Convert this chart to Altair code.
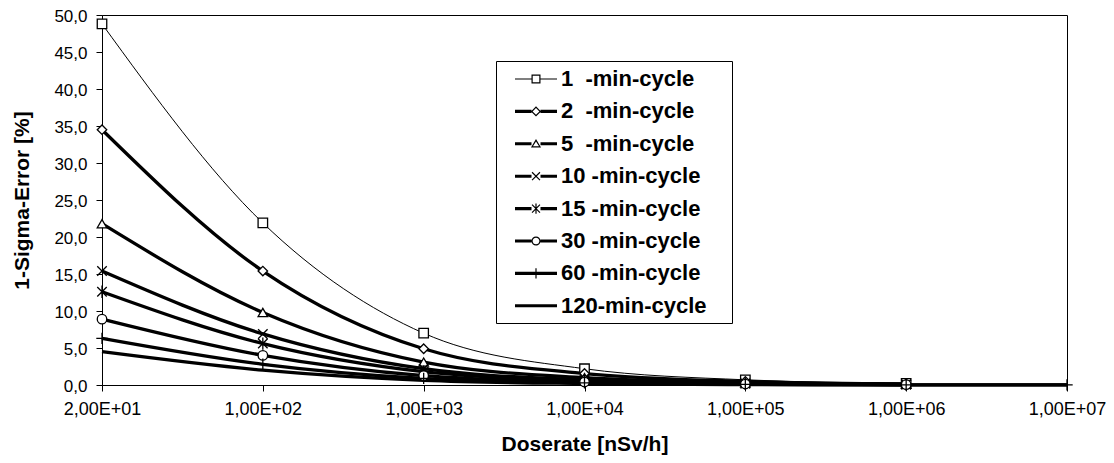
import altair as alt
import pandas as pd

# ---- data ----
doserate = ["2,00E+01", "1,00E+02", "1,00E+03", "1,00E+04", "1,00E+05", "1,00E+06", "1,00E+07"]
series = ["1\u00a0\u00a0-min-cycle", "2\u00a0\u00a0-min-cycle", "5\u00a0\u00a0-min-cycle", "10 -min-cycle",
          "15 -min-cycle", "30 -min-cycle", "60 -min-cycle", "120-min-cycle"]
s1 = [48.8, 21.9, 7.0, 2.2, 0.70, 0.22, None]
s2 = [34.5, 15.4, 4.9, 1.55, 0.49, 0.15, None]
s5 = [21.8, 9.8, 3.1, 0.98, 0.31, 0.10, None]
s10 = [15.4, 6.9, 2.2, 0.69, 0.22, 0.07, None]
s15 = [12.6, 5.6, 1.8, 0.56, 0.18, 0.06, None]
s30 = [8.9, 4.0, 1.26, 0.40, 0.13, 0.04, None]
s60 = [6.3, 2.8, 0.89, 0.28, 0.09, 0.03, 0.01]
s120 = [4.5, 2.0, 0.63, 0.20, 0.06, 0.02, 0.01]
y_ticks = [0, 5, 10, 15, 20, 25, 30, 35, 40, 45, 50]

all_vals = [s1, s2, s5, s10, s15, s30, s60, s120]
rows = []
for i, (name, vals) in enumerate(zip(series, all_vals)):
    for d, v in zip(doserate, vals):
        if v is not None:
            rows.append({"dose": d, "series": name, "value": v, "k": i})
df = pd.DataFrame(rows)

FONT = "Liberation Sans"

# plot markers (series with markers)
marker_series = series[:7]
marker_shapes = ["square", "diamond", "triangle-up",
                 "M-1,-1L1,1M-1,1L1,-1",
                 "M-1,-1L1,1M-1,1L1,-1M0,-1.3V1.3",
                 "circle",
                 "M-1.2,0H1.2M0,-1.2V1.2"]

# legend symbols: line segment + marker drawn as filled outlines (unit = 12px)
def seg(t):
    return (f"M-1.75,-{t}H-0.375V{t}H-1.75Z M0.375,-{t}H1.75V{t}H0.375Z")

def full(t):
    return f"M-1.75,-{t}H1.75V{t}H-1.75Z"

TH = 0.13
legend_shapes = [
    seg(0.05) + " M-0.375,-0.375H0.375V0.375H-0.375Z M-0.275,-0.275V0.275H0.275V-0.275Z",
    seg(TH) + " M0,-0.42L0.42,0L0,0.42L-0.42,0Z M0,-0.28L-0.28,0L0,0.28L0.28,0Z",
    seg(TH) + " M0,-0.4L0.42,0.3H-0.42Z M0,-0.2L-0.25,0.2H0.25Z",
    seg(TH) + " M-0.295,-0.365L0.365,0.295L0.295,0.365L-0.365,-0.295Z"
              " M-0.295,0.365L-0.365,0.295L0.295,-0.365L0.365,-0.295Z",
    seg(TH) + " M-0.295,-0.365L0.365,0.295L0.295,0.365L-0.365,-0.295Z"
              " M-0.295,0.365L-0.365,0.295L0.295,-0.365L0.365,-0.295Z"
              " M-0.05,-0.42H0.05V0.42H-0.05Z",
    seg(TH) + " M-0.38,0A0.38,0.38,0,1,1,0.38,0A0.38,0.38,0,1,1,-0.38,0Z"
              " M-0.28,0A0.28,0.28,0,1,0,0.28,0A0.28,0.28,0,1,0,-0.28,0Z",
    full(TH) + " M-0.05,-0.42H0.05V0.42H-0.05Z",
    full(TH),
]

x_enc = alt.X("dose:O", sort=doserate,
              scale=alt.Scale(type="point", padding=0, domain=doserate),
              axis=alt.Axis(title="Doserate [nSv/h]", labelAngle=0, tickSize=6,
                            labelPadding=9, labelFontSize=18, labelFont=FONT,
                            titleFont=FONT, titleFontSize=21, titleFontWeight="bold",
                            titleX=482.5, titleY=59, titleAlign="center",
                            titleBaseline="middle"))
y_enc = alt.Y("value:Q", scale=alt.Scale(domain=[0, 50], nice=False),
              axis=alt.Axis(title="1-Sigma-Error [%]", values=y_ticks, tickSize=6,
                            labelPadding=9, labelFontSize=17, labelFont=FONT,
                            labelOffset=1.5,
                            labelExpr="replace(format(datum.value, '.1f'), '.', ',')",
                            titleFont=FONT, titleFontSize=21, titleFontWeight="bold",
                            titleX=-80, titleY=185, titleAngle=270, titleAlign="center",
                            titleBaseline="middle", grid=False))

base = alt.Chart(df)

lines = base.mark_line(interpolate="monotone", color="black").encode(
    x=x_enc, y=y_enc,
    detail=alt.Detail("series:N"),
    order=alt.Order("k:Q"),
    strokeWidth=alt.condition(alt.datum.k == 0, alt.value(1), alt.value(3.3)),
)

points = base.transform_filter(alt.datum.k < 7).mark_point(
    filled=True, fill="white", stroke="black", strokeWidth=1.3, size=90, opacity=1
).encode(
    x=x_enc, y=y_enc,
    shape=alt.Shape("series:N", scale=alt.Scale(domain=marker_series, range=marker_shapes),
                    legend=None),
)

legend_layer = base.transform_filter("datum.value < 0").mark_point(
    filled=True, color="black", strokeWidth=0, size=576, opacity=1
).encode(
    x=x_enc, y=y_enc,
    shape=alt.Shape("series:N", scale=alt.Scale(domain=series, range=legend_shapes),
                    legend=alt.Legend(
                        title=".", titleOrient="right", titleFontSize=10,
                        titleColor="white", titlePadding=16,
                        orient="none", legendX=394, legendY=46,
                        padding=6, fillColor="white", strokeColor="black",
                        symbolSize=576, symbolOffset=22, labelOffset=13,
                        symbolFillColor="black", symbolStrokeWidth=0,
                        rowPadding=9.4, labelFont=FONT, labelFontSize=22,
                        labelFontWeight="bold", labelColor="black", labelLimit=600,
                    )),
)

chart = alt.layer(lines, points, legend_layer).resolve_scale(
    shape="independent"
).properties(
    width=965, height=370,
    autosize=alt.AutoSizeParams(type="none"),
    padding={"left": 94, "top": 7, "right": 39, "bottom": 70},
).configure_view(
    stroke="black", strokeWidth=1
).configure_axis(
    domainColor="black", tickColor="black", labelColor="black", titleColor="black",
    grid=False, domainWidth=1, tickWidth=1
)

chart.save("out.html", embed_options={"renderer": "svg", "actions": False})
